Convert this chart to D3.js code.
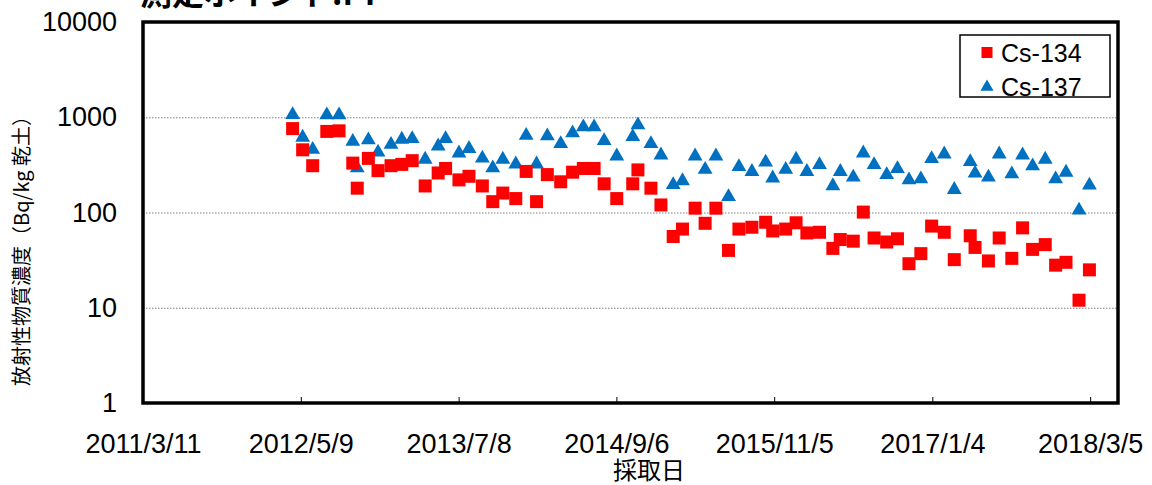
<!DOCTYPE html>
<html>
<head>
    <meta charset="utf-8">
    <title>測定ポイント</title>
    <style type="text/css">
        body { margin: 0; background: #fff; }
        svg text { font-family: Arial, "Liberation Sans", sans-serif; fill: #000; }
        .grid line { stroke: #808080; stroke-width: 1; stroke-dasharray: 1.5 1.5; }
    </style>
</head>
<body>
    <script src="https://d3js.org/d3.v7.min.js" type="text/javascript"></script>
    <script type="text/javascript">

        // sampling dates
        var dates = [
            '2012-04-17', '2012-05-14', '2012-06-10', '2012-07-18', '2012-08-20', '2012-09-26',
            '2012-10-08', '2012-11-07', '2012-12-03', '2013-01-07', '2013-02-05', '2013-03-05',
            '2013-04-09', '2013-05-14', '2013-06-03', '2013-07-09', '2013-08-05', '2013-09-10',
            '2013-10-08', '2013-11-04', '2013-12-09', '2014-01-06', '2014-02-03', '2014-03-04',
            '2014-04-09', '2014-05-11', '2014-06-09', '2014-07-08', '2014-08-04', '2014-09-07',
            '2014-10-20', '2014-11-03', '2014-12-08', '2015-01-04', '2015-02-06', '2015-03-03',
            '2015-04-06', '2015-05-03', '2015-06-01', '2015-07-05', '2015-08-02', '2015-09-06',
            '2015-10-13', '2015-11-01', '2015-12-06', '2016-01-03', '2016-02-01', '2016-03-06',
            '2016-04-11', '2016-05-01', '2016-06-05', '2016-07-02', '2016-07-31', '2016-09-03',
            '2016-10-02', '2016-11-02', '2016-12-04', '2017-01-02', '2017-02-05', '2017-03-04',
            '2017-04-16', '2017-04-29', '2017-06-04', '2017-07-03', '2017-08-06', '2017-09-04',
            '2017-10-01', '2017-11-04', '2017-12-02', '2017-12-30', '2018-02-03', '2018-03-03'
        ];

        var cs134 = [
            760, 455, 310, 710, 720, 330, 180, 370, 275, 310, 320, 350,
            190, 260, 290, 220, 240, 190, 130, 160, 140, 270, 130, 250,
            210, 265, 290, 290, 200, 140, 200, 280, 180, 120, 56, 67,
            111, 77, 111, 40, 67, 70, 79, 64, 67, 78, 61, 62,
            42, 52, 50, 101, 54, 49, 53, 29, 37, 72, 62, 32,
            57, 43, 31, 54, 33, 69, 41, 46, 28, 30, 12, 25
        ];

        var cs137 = [
            1090, 630, 470, 1080, 1080, 570, 300, 590, 440, 530, 600, 610,
            370, 510, 610, 430, 480, 380, 300, 370, 330, 660, 330, 650,
            540, 700, 810, 810, 580, 400, 640, 850, 540, 410, 200, 220,
            400, 290, 400, 150, 310, 275, 345, 235, 290, 370, 275, 325,
            195, 275, 240, 430, 325, 255, 295, 225, 230, 375, 420, 178,
            350, 265, 240, 420, 260, 410, 315, 370, 230, 270, 108, 198
        ];

        var tickDates = ['2011-03-11', '2012-05-09', '2013-07-08', '2014-09-06', '2015-11-05', '2017-01-04', '2018-03-05'];
        var tickLabels = ['2011/3/11', '2012/5/9', '2013/7/8', '2014/9/6', '2015/11/5', '2017/1/4', '2018/3/5'];
        var yTicks = [1, 10, 100, 1000, 10000];

        var parse = d3.timeParse('%Y-%m-%d');

        // plot area edges (window.top is reserved, so other names)
        var pLeft = 143, pRight = 1118, pTop = 22, pBottom = 403;

        var svg = d3.select('body').append('svg')
            .attr('width', 1152)
            .attr('height', 485);

        var x = d3.scaleTime()
            .domain([parse('2011-03-11'), parse('2018-05-19')])
            .range([pLeft, pRight]);
        var y = d3.scaleLog()
            .domain([1, 10000])
            .range([pBottom, pTop]);

        // title (mostly cut off at the top)
        svg.append('text')
            .attr('x', 140)
            .attr('y', 5)
            .style('font-family', '"Noto Sans CJK JP", sans-serif')
            .style('font-size', '32px')
            .style('font-weight', 'bold')
            .text('測定ポイント:I-I');

        // gridlines
        svg.append('g')
            .attr('class', 'grid')
            .attr('transform', 'translate(' + pLeft + ',0)')
            .call(d3.axisLeft(y).tickValues([10, 100, 1000]).tickSize(-(pRight - pLeft)).tickFormat(''))
            .call(function (g) { g.select('.domain').remove(); });

        // y axis labels
        svg.append('g')
            .attr('transform', 'translate(' + pLeft + ',0)')
            .call(d3.axisLeft(y).tickValues(yTicks).tickSize(0).tickPadding(26).tickFormat(d3.format('d')))
            .call(function (g) {
                g.select('.domain').remove();
                g.selectAll('text')
                    .style('font-family', 'Arial, "Liberation Sans", sans-serif')
                    .style('font-size', '27px')
                    .attr('fill', '#000');
            });

        // x axis
        svg.append('g')
            .attr('transform', 'translate(0,' + pBottom + ')')
            .call(d3.axisBottom(x)
                .tickValues(tickDates.map(parse))
                .tickSizeInner(-6)
                .tickSizeOuter(0)
                .tickFormat(function (d, i) { return tickLabels[i]; }))
            .call(function (g) {
                g.select('.domain').remove();
                g.selectAll('.tick line').attr('stroke', '#000');
                g.selectAll('text')
                    .attr('y', 50)
                    .attr('dy', 0)
                    .style('font-family', 'Arial, "Liberation Sans", sans-serif')
                    .style('font-size', '27px')
                    .attr('fill', '#000');
            });

        // plot frame
        svg.append('rect')
            .attr('x', pLeft)
            .attr('y', pTop)
            .attr('width', pRight - pLeft)
            .attr('height', pBottom - pTop)
            .attr('fill', 'none')
            .attr('stroke', '#000')
            .attr('stroke-width', 3.5);

        // axis titles
        svg.append('text')
            .attr('x', 649)
            .attr('y', 479)
            .attr('text-anchor', 'middle')
            .style('font-family', '"Noto Sans CJK JP", sans-serif')
            .style('font-size', '24px')
            .text('採取日');

        svg.append('text')
            .attr('transform', 'translate(29,246) rotate(-90)')
            .attr('text-anchor', 'middle')
            .style('font-family', '"Noto Sans CJK JP", sans-serif')
            .style('font-size', '20px')
            .text('放射性物質濃度（Bq/kg 乾土）');

        var tri = d3.symbol().type(d3.symbolTriangle).size(95);

        // Cs-137 triangles
        svg.append('g').selectAll('path')
            .data(dates)
            .enter().append('path')
            .attr('d', tri)
            .attr('transform', function (d, i) {
                return 'translate(' + x(parse(d)) + ',' + (y(cs137[i]) + 1) + ')';
            })
            .attr('fill', '#0070C0');

        // Cs-134 squares
        svg.append('g').selectAll('rect')
            .data(dates)
            .enter().append('rect')
            .attr('x', function (d) { return x(parse(d)) - 6.5; })
            .attr('y', function (d, i) { return y(cs134[i]) - 6.5; })
            .attr('width', 13)
            .attr('height', 13)
            .attr('fill', '#FF0000');

        // legend
        var lg = svg.append('g');
        lg.append('rect')
            .attr('x', 960).attr('y', 35)
            .attr('width', 150).attr('height', 62)
            .attr('fill', '#fff')
            .attr('stroke', '#000')
            .attr('stroke-width', 1.5);
        lg.append('rect')
            .attr('x', 981.5).attr('y', 47)
            .attr('width', 11).attr('height', 11)
            .attr('fill', '#FF0000');
        lg.append('path')
            .attr('d', d3.symbol().type(d3.symbolTriangle).size(75))
            .attr('transform', 'translate(987,87)')
            .attr('fill', '#0070C0');
        lg.append('text')
            .attr('x', 1001).attr('y', 62)
            .style('font-size', '25px')
            .text('Cs-134');
        lg.append('text')
            .attr('x', 1001).attr('y', 96)
            .style('font-size', '25px')
            .text('Cs-137');

    </script>
</body>
</html>
